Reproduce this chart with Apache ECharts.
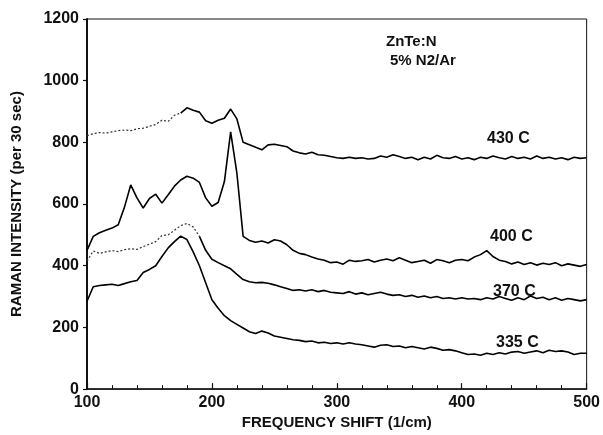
<!DOCTYPE html>
<html>
<head>
<meta charset="utf-8">
<script src="https://cdn.jsdelivr.net/npm/echarts@6/dist/echarts.min.js"></script>
<style>html,body{margin:0;padding:0;background:#fff}#c{width:603px;height:435px}</style>
</head>
<body>
<div id="c"></div>
<script>
// Frequency shift (1/cm), step 5 from 100 to 500
var freq = [];
for (var f = 100; f <= 500; f += 5) freq.push(f);

var s430 = [822,828,832,830,834,838,840,838,844,846,852,858,872,868,888,895,912,904,898,870,
  862,872,878,908,876,800,792,784,776,792,794,790,786,772,766,762,768,760,758,754,
  750,748,752,748,750,746,748,756,752,760,754,748,752,744,752,746,758,750,748,754,
  746,750,744,752,748,756,750,746,754,748,752,746,756,748,752,746,750,744,752,748,750];
var s400 = [450,495,507,515,522,533,590,662,620,587,618,632,603,630,658,678,690,684,670,620,
  593,605,673,834,700,495,482,476,480,474,484,480,468,450,440,436,428,422,418,410,
  412,405,418,414,416,420,412,418,422,416,426,418,410,414,418,408,420,416,410,418,
  420,416,428,436,449,430,418,414,406,412,404,410,402,408,404,410,400,406,402,398,404];
var s370 = [415,448,440,445,449,446,452,455,453,462,470,478,498,500,515,530,537,526,495,450,
  421,410,400,390,372,355,348,345,346,343,338,332,326,320,322,318,322,316,320,314,
  312,310,316,308,312,306,310,314,308,304,306,300,304,298,302,296,300,294,296,292,
  296,292,294,290,296,292,300,294,288,296,290,302,294,298,290,296,288,294,290,286,290];
var s335 = [285,332,336,338,340,336,342,348,352,378,388,400,430,458,478,496,485,445,400,345,
  290,262,238,222,210,198,186,180,188,182,172,168,164,160,158,154,156,150,152,148,
  150,146,150,146,144,140,136,142,144,138,140,134,138,134,130,136,132,126,128,124,
  118,112,114,110,116,112,118,114,120,122,116,120,124,118,126,122,124,120,112,116,116];

var seriesNames = ['430 C','400 C','370 C','335 C'];

function pairs(arr, from, to) {
  var out = [];
  for (var i = 0; i < freq.length; i++) {
    if (freq[i] >= from && freq[i] <= to) out.push([freq[i], arr[i]]);
  }
  return out;
}

var font = 'Liberation Sans, Arial, sans-serif';
var chart = echarts.init(document.getElementById('c'), null, {renderer: 'canvas'});
var solid = {color: '#000', width: 1.6};
var dotted = {color: '#333', width: 1.2, type: [2, 2]};

chart.setOption({
  animation: false,
  backgroundColor: '#fff',
  grid: {left: 87, right: 15, top: 19, bottom: 42, show: true, borderColor: '#111', borderWidth: 1, backgroundColor: 'transparent'},
  xAxis: {
    type: 'value', min: 100, max: 500, interval: 100,
    name: 'FREQUENCY SHIFT (1/cm)', nameLocation: 'middle', nameGap: 23,
    nameTextStyle: {fontFamily: font, fontSize: 15, fontWeight: 'bold', color: '#111'},
    axisLine: {show: true, lineStyle: {color: '#111', width: 1.5}},
    axisTick: {show: true, inside: true, length: 6, lineStyle: {color: '#111', width: 1.2}},
    minorTick: {show: true, splitNumber: 5, length: 4, lineStyle: {color: '#111', width: 1}},
    axisLabel: {fontFamily: font, fontSize: 16, fontWeight: 'bold', color: '#111', margin: 5, showMinLabel: true, showMaxLabel: true},
    splitLine: {show: false}
  },
  yAxis: {
    type: 'value', min: 0, max: 1200, interval: 200,
    name: 'RAMAN INTENSITY (per 30 sec)', nameLocation: 'middle', nameGap: 63, nameRotate: 90,
    nameTextStyle: {fontFamily: font, fontSize: 15, fontWeight: 'bold', color: '#111'},
    axisLine: {show: true, lineStyle: {color: '#111', width: 2}},
    axisTick: {show: true, inside: false, length: 4, lineStyle: {color: '#111', width: 1.2}},
    axisLabel: {fontFamily: font, fontSize: 16, fontWeight: 'bold', color: '#111', margin: 8,
      formatter: function (v) { return String(v); }},
    splitLine: {show: false}
  },
  series: [
    {name: '430 C a', type: 'line', showSymbol: false, lineStyle: dotted, data: pairs(s430, 100, 175)},
    {name: '430 C', type: 'line', showSymbol: false, lineStyle: solid, data: pairs(s430, 175, 500)},
    {name: '400 C', type: 'line', showSymbol: false, lineStyle: solid, data: pairs(s400, 100, 500)},
    {name: '370 C a', type: 'line', showSymbol: false, lineStyle: dotted, data: pairs(s370, 100, 190)},
    {name: '370 C', type: 'line', showSymbol: false, lineStyle: solid, data: pairs(s370, 190, 500)},
    {name: '335 C', type: 'line', showSymbol: false, lineStyle: solid, data: pairs(s335, 100, 500)}
  ],
  graphic: [
    {type: 'text', left: 386, top: 34, style: {text: 'ZnTe:N', font: 'bold 15px ' + font, fill: '#111'}},
    {type: 'text', left: 390, top: 53, style: {text: '5% N2/Ar', font: 'bold 15px ' + font, fill: '#111'}},
    {type: 'text', left: 487, top: 131, style: {text: seriesNames[0], font: 'bold 16px ' + font, fill: '#111'}},
    {type: 'text', left: 490, top: 229, style: {text: seriesNames[1], font: 'bold 16px ' + font, fill: '#111'}},
    {type: 'text', left: 493, top: 284, style: {text: seriesNames[2], font: 'bold 16px ' + font, fill: '#111'}},
    {type: 'text', left: 496, top: 335, style: {text: seriesNames[3], font: 'bold 16px ' + font, fill: '#111'}}
  ]
});
</script>
</body>
</html>
